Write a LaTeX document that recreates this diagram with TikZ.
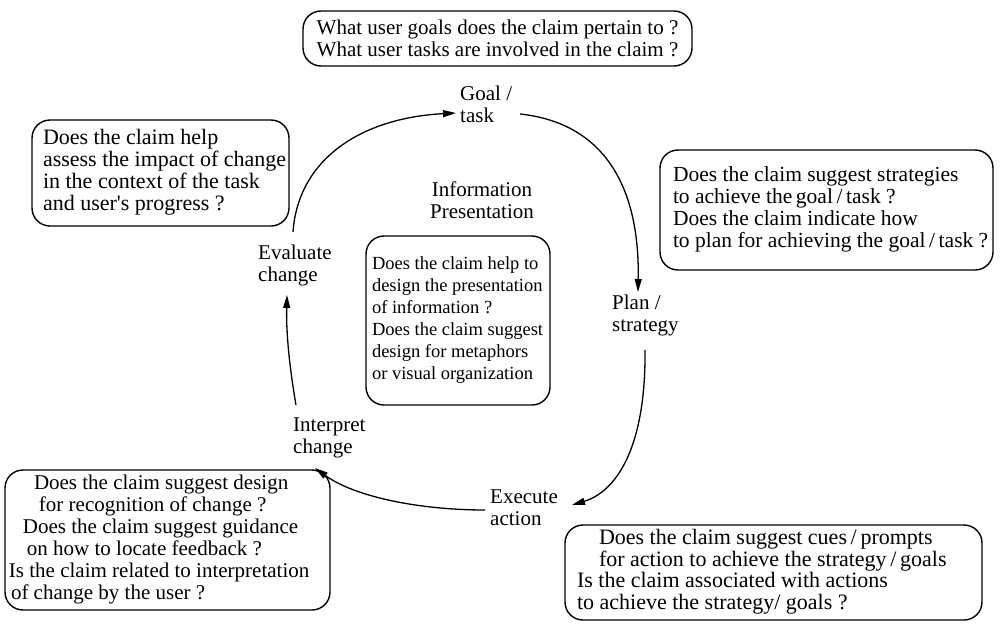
\documentclass[tikz,border=0pt]{standalone}
\usepackage{fontspec}
\setmainfont{Liberation Serif}
\usetikzlibrary{arrows.meta}

% left-aligned block of lines in a box of fixed width
\newcommand{\qlines}[2]{\makebox[#1][l]{\begin{tabular}{@{}l@{}}#2\end{tabular}}}

\begin{document}
\begin{tikzpicture}[x=1pt,y=-1pt,
  txt/.style={font=\fontsize{21}{22}\selectfont},
  qbox/.style={txt, draw, line width=1.4pt, rounded corners=18pt, inner xsep=0pt, inner ysep=0pt},
  stage/.style={txt, align=left, inner sep=0pt, anchor=west},
  flow/.style={line width=1.3pt, -{Triangle[length=13pt,width=7pt]}}]

\useasboundingbox (0,0) rectangle (1003,627);

% question boxes
\node[qbox, minimum width=389pt, minimum height=55pt, align=center] (qgoal) at (497.5,38.5)
  {What user goals does the claim pertain to ?\\What user tasks are involved in the claim ?};

\node[qbox, minimum width=257pt, minimum height=106pt, font=\fontsize{22}{22}\selectfont] (qeval) at (160.5,173)
  {\qlines{235pt}{Does the claim help\\assess the impact of change\\in the context of the task\\and user\textquotesingle s progress ?}};

\node[qbox, minimum width=333pt, minimum height=120pt, font=\fontsize{21.5}{22}\selectfont] (qplan) at (826.5,210)
  {\qlines{307pt}{Does the claim suggest strategies\\to achieve the\,goal\,/\,task ?\\Does the claim indicate how\\to plan for achieving the goal\,/\,task ?}};

\node[qbox, minimum width=184pt, minimum height=169pt, font=\fontsize{18.5}{22}\selectfont] (qinfo) at (458,320.5)
  {\qlines{172pt}{Does the claim help to\\design the presentation\\of information ?\\Does the claim suggest\\design for metaphors\\or visual organization}};

\node[qbox, minimum width=325pt, minimum height=140pt] (qinterp) at (167.5,540)
  {\qlines{317pt}{\hspace*{25pt}Does the claim suggest design\\
   \hspace*{30pt}for recognition of change ?\\
   \hspace*{14pt}Does the claim suggest guidance\\
   \hspace*{18pt}on how to locate feedback ?\\
   Is the claim related to interpretation\\
   \hspace*{2pt}of change by the user ?}};

\node[qbox, minimum width=417pt, minimum height=95pt, font=\fontsize{22}{21.5}\selectfont] (qexec) at (773.5,572.5)
  {\qlines{393pt}{\hspace*{22pt}Does the claim suggest cues\,/\,prompts\\
   \hspace*{22pt}for action to achieve the strategy\,/\,goals\\
   Is the claim associated with actions\\
   to achieve the strategy/ goals ?}};

% stages of the cycle
\node[stage] (goal) at (460,104) {Goal /\\task};
\node[stage] (plan) at (612,315) {Plan /\\strategy};
\node[stage] (exec) at (490,508) {Execute\\action};
\node[stage] (interp) at (293,438) {Interpret\\change};
\node[stage] (eval) at (258,265) {Evaluate\\change};
\node[txt, align=center, inner sep=0pt] (info) at (482,200) {Information\\Presentation};

% cycle arrows
\draw[flow] ([shift={(35,-33)}]eval.west) .. controls (298,160) and (360,118) .. ([shift={(-4,9)}]goal.west);
\draw[flow] ([shift={(60,10)}]goal.west) .. controls (595,122) and (640,175) .. ([shift={(26,-23)}]plan.west);
\draw[flow] ([shift={(33,35)}]plan.west) .. controls (646,450) and (615,492) .. ([shift={(82,-3)}]exec.west);
\draw[flow] ([shift={(-5,2)}]exec.west) .. controls (420,510) and (355,497) .. ([shift={(22,30)}]interp.west);
\draw[flow] ([shift={(3,-33)}]interp.west) .. controls (290,370) and (286,335) .. ([shift={(29,30)}]eval.west);

\end{tikzpicture}
\end{document}
